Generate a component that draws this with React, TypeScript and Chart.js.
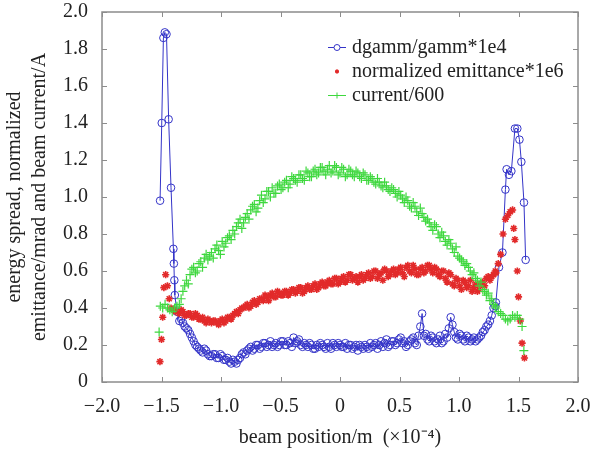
import React, { useEffect, useRef } from "react";
import { Chart, registerables } from "chart.js";

Chart.register(...registerables);

const seriesLabels = ["dgamm/gamm*1e4", "normalized emittance*1e6", "current/600"];
const xTickLabels = ["−2.0", "−1.5", "−1.0", "−0.5", "0", "0.5", "1.0", "1.5", "2.0"];
const yTickLabels = ["0", "0.2", "0.4", "0.6", "0.8", "1.0", "1.2", "1.4", "1.6", "1.8", "2.0"];
const xAxisTitle = "beam position/m  (×10⁻⁴)";
const yAxisTitle = ["energy spread, normalized", "emittance/mrad and beam current/A"];

// beam positions (×1e-4 m) in the body of the beam, two interleaved sample sets
const positions = [
  -1.35, -1.32, -1.29, -1.26, -1.23, -1.2, -1.17, -1.14, -1.11, -1.08,
  -1.05, -1.02, -0.99, -0.96, -0.93, -0.9, -0.87, -0.84, -0.81, -0.78,
  -0.75, -0.72, -0.69, -0.66, -0.63, -0.6, -0.57, -0.54, -0.51, -0.48,
  -0.45, -0.42, -0.39, -0.36, -0.33, -0.3, -0.27, -0.24, -0.21, -0.18,
  -0.15, -0.12, -0.09, -0.06, -0.03, 0.0, 0.03, 0.06, 0.09, 0.12,
  0.15, 0.18, 0.21, 0.24, 0.27, 0.3, 0.33, 0.36, 0.39, 0.42,
  0.45, 0.48, 0.51, 0.54, 0.57, 0.6, 0.63, 0.66, 0.69, 0.72,
  0.75, 0.78, 0.81, 0.84, 0.87, 0.9, 0.93, 0.96, 0.99, 1.02,
  1.05, 1.08, 1.11, 1.14, 1.17, 1.2, 1.23, 1.26, 1.29,
];
const positionsB = [
  -1.335, -1.305, -1.275, -1.245, -1.215, -1.185, -1.155, -1.125, -1.095, -1.065,
  -1.035, -1.005, -0.975, -0.945, -0.915, -0.885, -0.855, -0.825, -0.795, -0.765,
  -0.735, -0.705, -0.675, -0.645, -0.615, -0.585, -0.555, -0.525, -0.495, -0.465,
  -0.435, -0.405, -0.375, -0.345, -0.315, -0.285, -0.255, -0.225, -0.195, -0.165,
  -0.135, -0.105, -0.075, -0.045, -0.015, 0.015, 0.045, 0.075, 0.105, 0.135,
  0.165, 0.195, 0.225, 0.255, 0.285, 0.315, 0.345, 0.375, 0.405, 0.435,
  0.465, 0.495, 0.525, 0.555, 0.585, 0.615, 0.645, 0.675, 0.705, 0.735,
  0.765, 0.795, 0.825, 0.855, 0.885, 0.915, 0.945, 0.975, 1.005, 1.035,
  1.065, 1.095, 1.125, 1.155, 1.185, 1.215, 1.245, 1.275, 1.305,
];

// dgamm/gamm*1e4
const dgammLeftX = [-1.512, -1.498, -1.484, -1.472, -1.458, -1.44, -1.42, -1.4, -1.396, -1.392, -1.388, -1.37];
const dgammLeftY = [0.98, 1.4, 1.86, 1.89, 1.88, 1.42, 1.05, 0.72, 0.64, 0.55, 0.47, 0.38];
const dgammMid = [
  0.33, 0.32, 0.29, 0.26, 0.22, 0.19, 0.17, 0.18, 0.15, 0.14,
  0.15, 0.13, 0.14, 0.12, 0.11, 0.12, 0.10, 0.13, 0.16, 0.17,
  0.19, 0.18, 0.20, 0.19, 0.21, 0.20, 0.19, 0.21, 0.20, 0.22,
  0.20, 0.21, 0.24, 0.22, 0.20, 0.21, 0.19, 0.20, 0.18, 0.19,
  0.20, 0.18, 0.19, 0.21, 0.19, 0.20, 0.19, 0.18, 0.20, 0.19,
  0.17, 0.19, 0.20, 0.18, 0.19, 0.21, 0.20, 0.19, 0.23, 0.20,
  0.22, 0.21, 0.24, 0.22, 0.20, 0.23, 0.21, 0.25, 0.37, 0.26,
  0.22, 0.24, 0.21, 0.25, 0.22, 0.24, 0.35, 0.27, 0.23, 0.25,
  0.22, 0.24, 0.23, 0.22, 0.24, 0.27, 0.30, 0.33, 0.40,
];
const dgammMidB = [
  0.34, 0.30, 0.28, 0.24, 0.20, 0.18, 0.16, 0.17, 0.14, 0.15,
  0.13, 0.15, 0.12, 0.13, 0.10, 0.11, 0.12, 0.15, 0.15, 0.18,
  0.17, 0.20, 0.18, 0.21, 0.19, 0.22, 0.20, 0.19, 0.22, 0.20,
  0.22, 0.19, 0.21, 0.23, 0.19, 0.20, 0.21, 0.18, 0.20, 0.21,
  0.19, 0.21, 0.18, 0.20, 0.21, 0.19, 0.21, 0.20, 0.18, 0.20,
  0.20, 0.18, 0.19, 0.21, 0.20, 0.18, 0.22, 0.21, 0.19, 0.22,
  0.20, 0.23, 0.21, 0.19, 0.22, 0.24, 0.20, 0.30, 0.25, 0.23,
  0.25, 0.22, 0.23, 0.21, 0.26, 0.29, 0.31, 0.24, 0.26, 0.23,
  0.25, 0.22, 0.24, 0.23, 0.25, 0.28, 0.31, 0.36, 0.41,
];
const dgammRightX = [1.31, 1.336, 1.365, 1.39, 1.4, 1.42, 1.44, 1.47, 1.49, 1.508, 1.524, 1.546, 1.56];
const dgammRightY = [0.43, 0.62, 0.7, 1.04, 1.15, 1.12, 1.14, 1.37, 1.37, 1.31, 1.19, 0.97, 0.66];

// normalized emittance*1e6
const emitLeftX = [-1.513, -1.5, -1.49, -1.48, -1.465, -1.45, -1.435, -1.42, -1.4, -1.38];
const emitLeftY = [0.11, 0.23, 0.35, 0.51, 0.58, 0.52, 0.45, 0.4, 0.39, 0.38];
const emitMid = [
  0.37, 0.38, 0.36, 0.37, 0.35, 0.36, 0.34, 0.33, 0.34, 0.32,
  0.33, 0.31, 0.34, 0.33, 0.35, 0.36, 0.38, 0.39, 0.40, 0.42,
  0.41, 0.44, 0.43, 0.45, 0.47, 0.44, 0.48, 0.46, 0.48, 0.47,
  0.49, 0.48, 0.50, 0.49, 0.51, 0.49, 0.52, 0.50, 0.53, 0.51,
  0.54, 0.52, 0.55, 0.53, 0.56, 0.54, 0.57, 0.55, 0.58, 0.56,
  0.54, 0.58, 0.56, 0.59, 0.57, 0.60, 0.58, 0.55, 0.60, 0.58,
  0.61, 0.59, 0.62, 0.57, 0.63, 0.59, 0.61, 0.58, 0.62, 0.60,
  0.63, 0.59, 0.61, 0.57, 0.60, 0.54, 0.58, 0.52, 0.55, 0.50,
  0.54, 0.52, 0.49, 0.53, 0.50, 0.54, 0.56, 0.55, 0.58,
];
const emitMidB = [
  0.39, 0.36, 0.37, 0.35, 0.37, 0.34, 0.35, 0.32, 0.33, 0.33,
  0.32, 0.33, 0.32, 0.35, 0.34, 0.37, 0.37, 0.40, 0.41, 0.40,
  0.43, 0.42, 0.45, 0.44, 0.46, 0.47, 0.46, 0.49, 0.47, 0.49,
  0.47, 0.50, 0.48, 0.51, 0.48, 0.51, 0.50, 0.52, 0.50, 0.53,
  0.52, 0.54, 0.53, 0.56, 0.53, 0.56, 0.54, 0.58, 0.55, 0.57,
  0.57, 0.55, 0.58, 0.56, 0.60, 0.56, 0.59, 0.61, 0.57, 0.60,
  0.58, 0.61, 0.59, 0.62, 0.60, 0.63, 0.58, 0.61, 0.59, 0.63,
  0.61, 0.62, 0.58, 0.60, 0.56, 0.59, 0.53, 0.56, 0.52, 0.55,
  0.51, 0.55, 0.51, 0.49, 0.53, 0.52, 0.57, 0.57, 0.60,
];
const emitRightX = [1.31, 1.33, 1.35, 1.37, 1.39, 1.41, 1.43, 1.45, 1.46, 1.47, 1.49, 1.5, 1.515, 1.53, 1.55];
const emitRightY = [0.59, 0.64, 0.69, 0.8, 0.88, 0.9, 0.92, 0.93, 0.83, 0.77, 0.6, 0.46, 0.33, 0.21, 0.13];

// current/600
const currentLeftX = [-1.52, -1.51, -1.49, -1.47, -1.45, -1.43, -1.41, -1.39, -1.37];
const currentLeftY = [0.27, 0.41, 0.4, 0.42, 0.4, 0.39, 0.38, 0.4, 0.41];
const currentMid = [
  0.42, 0.49, 0.55, 0.58, 0.62, 0.60, 0.65, 0.67, 0.66, 0.70,
  0.72, 0.71, 0.76, 0.75, 0.79, 0.82, 0.84, 0.88, 0.86, 0.91,
  0.93, 0.96, 0.94, 1.01, 0.99, 1.03, 1.05, 1.02, 1.07, 1.05,
  1.09, 1.07, 1.10, 1.08, 1.12, 1.09, 1.13, 1.11, 1.15, 1.13,
  1.16, 1.12, 1.17, 1.14, 1.16, 1.13, 1.15, 1.12, 1.14, 1.11,
  1.13, 1.10, 1.12, 1.09, 1.10, 1.07, 1.08, 1.05, 1.06, 1.03,
  1.04, 1.00, 1.01, 0.97, 0.98, 0.94, 0.95, 0.90, 0.91, 0.87,
  0.86, 0.82, 0.84, 0.78, 0.79, 0.74, 0.75, 0.70, 0.68, 0.66,
  0.63, 0.62, 0.58, 0.56, 0.52, 0.50, 0.47, 0.44, 0.42,
];
const currentMidB = [
  0.45, 0.52, 0.53, 0.61, 0.59, 0.64, 0.62, 0.69, 0.68, 0.67,
  0.74, 0.69, 0.73, 0.78, 0.77, 0.80, 0.86, 0.83, 0.89, 0.88,
  0.95, 0.92, 0.98, 0.97, 1.03, 1.00, 1.02, 1.06, 1.04, 1.08,
  1.05, 1.11, 1.09, 1.12, 1.10, 1.14, 1.11, 1.14, 1.12, 1.16,
  1.14, 1.15, 1.13, 1.17, 1.12, 1.16, 1.11, 1.15, 1.12, 1.14,
  1.11, 1.13, 1.09, 1.11, 1.08, 1.10, 1.06, 1.08, 1.04, 1.05,
  1.02, 1.03, 0.99, 1.00, 0.95, 0.97, 0.92, 0.94, 0.89, 0.88,
  0.84, 0.85, 0.80, 0.81, 0.76, 0.77, 0.72, 0.73, 0.67, 0.65,
  0.64, 0.60, 0.59, 0.55, 0.54, 0.49, 0.48, 0.45, 0.41,
];
const currentRightX = [1.31, 1.33, 1.35, 1.37, 1.39, 1.41, 1.43, 1.45, 1.47, 1.49, 1.51, 1.53, 1.545];
const currentRightY = [0.4, 0.38, 0.37, 0.36, 0.34, 0.33, 0.34, 0.36, 0.35, 0.36, 0.34, 0.3, 0.17];

const BLUE = "#3434c8";
const RED = "#e22a2a";
const GREEN = "#3ed83e";
const FRAME = "#8c8c8c";
const TEXT = "#222222";
const FONT_FAMILY = '"Liberation Serif", "Times New Roman", serif';

function toPoints(xs: number[], ys: number[]) {
  return xs.map((x, i) => ({ x, y: ys[i] }));
}

function join(lx: number[], ly: number[], midA: number[], midB: number[], rx: number[], ry: number[]) {
  const all = [
    ...toPoints(lx, ly),
    ...toPoints(positions, midA),
    ...toPoints(positionsB, midB),
    ...toPoints(rx, ry),
  ];
  return all.sort((a, b) => a.x - b.x);
}

const framePlugin = {
  id: "frameTicks",
  afterDatasetsDraw(chart: any) {
    const { left, right, top, bottom } = chart.chartArea;
    const ctx = chart.ctx;
    ctx.save();
    ctx.strokeStyle = FRAME;
    ctx.lineWidth = 1.5;
    ctx.strokeRect(left, top, right - left, bottom - top);
    ctx.lineWidth = 1;
    const xs = chart.scales.x;
    const ys = chart.scales.y;
    const L = 5;
    ctx.beginPath();
    xs.ticks.forEach((t: any) => {
      const px = Math.round(xs.getPixelForValue(t.value)) + 0.5;
      ctx.moveTo(px, bottom);
      ctx.lineTo(px, bottom - L);
      ctx.moveTo(px, top);
      ctx.lineTo(px, top + L);
    });
    ys.ticks.forEach((t: any) => {
      const py = Math.round(ys.getPixelForValue(t.value)) + 0.5;
      ctx.moveTo(left, py);
      ctx.lineTo(left + L, py);
      ctx.moveTo(right, py);
      ctx.lineTo(right - L, py);
    });
    ctx.stroke();
    ctx.restore();
  },
};

const legendPlugin = {
  id: "insideLegend",
  afterDraw(chart: any) {
    const { right, top } = chart.chartArea;
    const ctx = chart.ctx;
    ctx.save();
    ctx.font = `20px ${FONT_FAMILY}`;
    ctx.textBaseline = "alphabetic";
    ctx.textAlign = "left";
    const textX = right - 226;
    const sx0 = textX - 24;
    const sx1 = textX - 6;
    const cx = (sx0 + sx1) / 2;
    chart.data.datasets.forEach((ds: any, i: number) => {
      const baseY = top + 41 + i * 24;
      const sy = baseY - 5.5;
      ctx.strokeStyle = ds.borderColor;
      ctx.lineWidth = 1;
      if (i === 0) {
        ctx.beginPath();
        ctx.moveTo(sx0, sy);
        ctx.lineTo(cx - 3, sy);
        ctx.moveTo(cx + 3, sy);
        ctx.lineTo(sx1, sy);
        ctx.stroke();
        ctx.beginPath();
        ctx.arc(cx, sy, 3, 0, Math.PI * 2);
        ctx.stroke();
      } else if (i === 1) {
        ctx.lineWidth = 1.5;
        ctx.beginPath();
        for (let k = 0; k < 4; k++) {
          const a = (k * Math.PI) / 4;
          ctx.moveTo(cx - 2 * Math.cos(a), sy - 2 * Math.sin(a));
          ctx.lineTo(cx + 2 * Math.cos(a), sy + 2 * Math.sin(a));
        }
        ctx.stroke();
      } else {
        ctx.beginPath();
        ctx.moveTo(sx0, sy);
        ctx.lineTo(sx1, sy);
        ctx.moveTo(cx, sy - 3);
        ctx.lineTo(cx, sy + 3);
        ctx.stroke();
      }
      ctx.fillStyle = TEXT;
      ctx.fillText(ds.label, textX, baseY);
    });
    ctx.restore();
  },
};

export default function App() {
  const canvasRef = useRef<HTMLCanvasElement | null>(null);

  useEffect(() => {
    document.body.style.margin = "0";
    const canvas = canvasRef.current;
    if (!canvas) return;
    const chart = new Chart(canvas, {
      type: "scatter",
      data: {
        datasets: [
          {
            label: seriesLabels[0],
            data: join(dgammLeftX, dgammLeftY, dgammMid, dgammMidB, dgammRightX, dgammRightY),
            showLine: true,
            borderColor: BLUE,
            backgroundColor: "rgba(0,0,0,0)",
            borderWidth: 1,
            pointStyle: "circle",
            pointRadius: 3.8,
            pointBorderWidth: 1,
            pointBorderColor: BLUE,
            pointBackgroundColor: "rgba(0,0,0,0)",
            order: 2,
          },
          {
            label: seriesLabels[1],
            data: join(emitLeftX, emitLeftY, emitMid, emitMidB, emitRightX, emitRightY),
            showLine: false,
            borderColor: RED,
            backgroundColor: RED,
            pointStyle: "star",
            pointRadius: 3.6,
            pointBorderWidth: 1.6,
            pointBorderColor: RED,
            order: 1,
          },
          {
            label: seriesLabels[2],
            data: join(currentLeftX, currentLeftY, currentMid, currentMidB, currentRightX, currentRightY),
            showLine: false,
            borderColor: GREEN,
            backgroundColor: GREEN,
            pointStyle: "cross",
            pointRadius: 4.5,
            pointBorderWidth: 1.2,
            pointBorderColor: GREEN,
            order: 0,
          },
        ],
      },
      options: {
        responsive: false,
        animation: false,
        events: [],
        layout: { padding: { left: 0, right: 14, top: 12, bottom: 0 } },
        plugins: {
          legend: { display: false },
          tooltip: { enabled: false },
        },
        scales: {
          x: {
            type: "linear",
            min: -2,
            max: 2,
            grid: { display: false, drawTicks: false },
            border: { display: false },
            ticks: {
              stepSize: 0.5,
              padding: 13,
              color: TEXT,
              font: { family: FONT_FAMILY, size: 20 },
              maxRotation: 0,
              autoSkip: false,
              callback: (_v: any, i: number) => xTickLabels[i],
            },
            title: {
              display: true,
              text: xAxisTitle,
              color: TEXT,
              font: { family: FONT_FAMILY, size: 20, lineHeight: 1.2 },
              padding: { top: 0, bottom: 1 },
            },
            afterFit: (scale: any) => {
              scale.height = 69;
              scale.paddingLeft = 0;
              scale.paddingRight = 0;
            },
          },
          y: {
            type: "linear",
            min: 0,
            max: 2,
            grid: { display: false, drawTicks: false },
            border: { display: false },
            ticks: {
              stepSize: 0.2,
              padding: 14,
              color: TEXT,
              font: { family: FONT_FAMILY, size: 20 },
              autoSkip: false,
              callback: (_v: any, i: number) => yTickLabels[i],
            },
            title: {
              display: true,
              text: yAxisTitle,
              color: TEXT,
              font: { family: FONT_FAMILY, size: 20, lineHeight: 1.25 },
              padding: { top: 2.5, bottom: 0 },
            },
            afterFit: (scale: any) => {
              scale.width = 102;
              scale.paddingTop = 0;
              scale.paddingBottom = 0;
            },
          },
        },
      },
      plugins: [framePlugin, legendPlugin],
    });
    return () => chart.destroy();
  }, []);

  return (
    <div style={{ width: 592, height: 451, background: "#ffffff" }}>
      <canvas ref={canvasRef} width={592} height={451} />
    </div>
  );
}
